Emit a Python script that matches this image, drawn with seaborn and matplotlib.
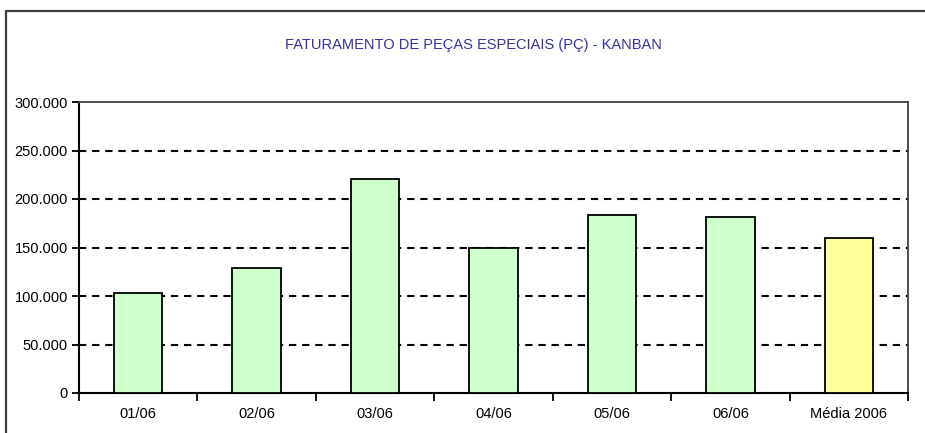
import numpy as np
import pandas as pd
import matplotlib
matplotlib.use("Agg")
import matplotlib.pyplot as plt
import seaborn as sns
from matplotlib.lines import Line2D
from matplotlib.ticker import FuncFormatter, FixedLocator

# --- dados ---
categorias = ["01/06", "02/06", "03/06", "04/06", "05/06", "06/06", "Média 2006"]
valores = [103500, 128500, 220800, 149700, 183000, 181000, 160000]
cores = ["#CCFFCC"] * 6 + ["#FFFF99"]
titulo = "FATURAMENTO DE PEÇAS ESPECIAIS (PÇ) - KANBAN"
yticks = [0, 50000, 100000, 150000, 200000, 250000, 300000]

sns.set_style("white")
plt.rcParams['font.family'] = ['Liberation Sans Narrow', 'Liberation Sans', 'DejaVu Sans']
plt.rcParams['text.color'] = "black"
plt.rcParams['xtick.color'] = "black"
plt.rcParams['ytick.color'] = "black"

df = pd.DataFrame({"cat": categorias, "val": valores})

fig = plt.figure(figsize=(9.25, 4.33), dpi=100)
ax = fig.add_axes([79 / 925, 1 - 393 / 433, (908 - 79) / 925, (393 - 102) / 433])

sns.barplot(data=df, x="cat", y="val", hue="cat", palette=cores, legend=False, saturation=1,
            width=0.41, edgecolor="black", linewidth=1.3, ax=ax, zorder=3)

ax.set_ylim(0, 300000)
ax.set_xlim(-0.5, len(categorias) - 0.5)
ax.set_yticks(yticks)
ax.yaxis.set_major_formatter(FuncFormatter(lambda v, p: "0" if v == 0 else f"{int(v):,}".replace(",", ".")))
for yv in yticks[1:-1]:
    ax.axhline(yv, color="black", lw=1.5, ls=(0, (3.5, 2.8)), zorder=1)

# ticks do eixo x nas divisas, rótulos no centro
ax.xaxis.set_major_locator(FixedLocator(np.arange(-0.5, len(categorias), 1.0)))
ax.xaxis.set_minor_locator(FixedLocator(np.arange(len(categorias))))
ax.set_xticklabels([""] * (len(categorias) + 1))
ax.set_xticklabels(categorias, minor=True)
ax.tick_params(axis="x", which="major", direction="out", length=6, width=1.3, color="black", bottom=True)
ax.tick_params(axis="x", which="minor", length=0, pad=10, labelsize=10.5, labelcolor="black")
ax.tick_params(axis="y", direction="out", length=5, width=1.3, color="black", left=True, pad=3,
               labelsize=10.5, labelcolor="black")

ax.set_xlabel("")
ax.set_ylabel("")
for s in ["left", "bottom"]:
    ax.spines[s].set_color("black")
    ax.spines[s].set_linewidth(1.5)
for s in ["top", "right"]:
    ax.spines[s].set_color("#404040")
    ax.spines[s].set_linewidth(1.3)

# moldura externa do gráfico (só topo e esquerda visíveis)
y_top = 1 - 11 / 433
x_left = 6 / 925
fig.lines.append(Line2D([x_left, 1.0], [y_top, y_top], transform=fig.transFigure, color="#404040", lw=1.6))
fig.lines.append(Line2D([x_left, x_left], [0, y_top], transform=fig.transFigure, color="#404040", lw=1.6))

fig.text(473 / 925, 1 - 45 / 433, titulo, ha="center", va="center", color="#333399", fontsize=10.5)

fig.savefig("out.png", dpi=100)
